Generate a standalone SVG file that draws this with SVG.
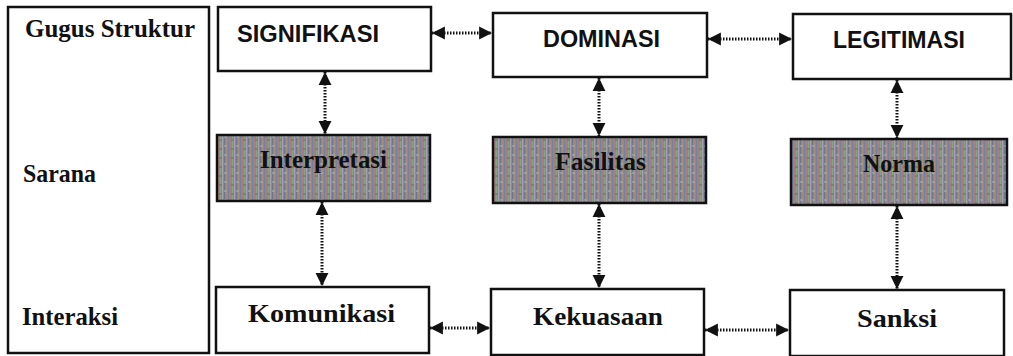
<svg xmlns="http://www.w3.org/2000/svg" width="1013" height="356" viewBox="0 0 1013 356">
<style>
.box{fill:#fff;stroke:#111;stroke-width:2.5}
.tex{fill:url(#noise);stroke:#111;stroke-width:2.5}
.sans{font-family:"Liberation Sans",Arial,sans-serif;font-weight:bold;font-size:23px;fill:#111}
.serif{font-family:"Liberation Serif","Times New Roman",serif;font-weight:bold;font-size:25px;fill:#111}
.con{stroke:#111;stroke-width:3;stroke-dasharray:1.5 1.5;fill:none;marker-start:url(#ah);marker-end:url(#ah)}
</style>
<defs>
<marker id="ah" viewBox="0 0 10 10" refX="10" refY="5" markerWidth="4.3" markerHeight="4.6" orient="auto-start-reverse" markerUnits="strokeWidth">
<path d="M0,0 L10,5 L0,10 z" fill="#111"/>
</marker>
<pattern id="noise" width="12" height="9" patternUnits="userSpaceOnUse">
<rect width="12" height="9" fill="#8e8a8c"/>
<rect x="0" width="1" height="9" fill="#7580a2"/>
<rect x="2" width="1" height="9" fill="#a47e7c"/>
<rect x="4" width="1" height="9" fill="#84a286"/>
<rect x="6" width="1" height="9" fill="#a8a2a8"/>
<rect x="8" width="1" height="9" fill="#6e7496"/>
<rect x="10" width="1" height="9" fill="#a28f72"/>
<rect x="3" y="4" width="3" height="2" fill="#7a6a70" opacity="0.6"/>
<rect x="8" y="1" width="3" height="2" fill="#a8acb0" opacity="0.6"/>
</pattern>
</defs>

<g id="left-panel">
<rect class="box" x="8" y="7" width="201" height="346"/>
<text class="serif" x="25" y="37" textLength="170" lengthAdjust="spacingAndGlyphs">Gugus Struktur</text>
<text class="serif" x="23" y="182" textLength="73" lengthAdjust="spacingAndGlyphs">Sarana</text>
<text class="serif" x="22" y="325" textLength="96" lengthAdjust="spacingAndGlyphs">Interaksi</text>
</g>

<g id="signifikasi">
<rect class="box" x="218" y="7" width="213" height="64"/>
<text class="sans" x="237" y="42" textLength="142" lengthAdjust="spacingAndGlyphs">SIGNIFIKASI</text>
</g>
<g id="dominasi">
<rect class="box" x="493" y="13" width="214" height="64"/>
<text class="sans" x="543" y="47" textLength="117" lengthAdjust="spacingAndGlyphs">DOMINASI</text>
</g>
<g id="legitimasi">
<rect class="box" x="793" y="14" width="218" height="65"/>
<text class="sans" x="833" y="48" textLength="132" lengthAdjust="spacingAndGlyphs">LEGITIMASI</text>
</g>

<g id="interpretasi">
<rect class="tex" x="217" y="135" width="213" height="66"/>
<text class="serif" x="260" y="168" textLength="127" lengthAdjust="spacingAndGlyphs">Interpretasi</text>
</g>
<g id="fasilitas">
<rect class="tex" x="493" y="137" width="213" height="66"/>
<text class="serif" x="555" y="170" textLength="91" lengthAdjust="spacingAndGlyphs">Fasilitas</text>
</g>
<g id="norma">
<rect class="tex" x="791" y="139" width="216" height="66"/>
<text class="serif" x="863" y="172" textLength="72" lengthAdjust="spacingAndGlyphs">Norma</text>
</g>

<g id="komunikasi">
<rect class="box" x="216" y="287" width="213" height="66"/>
<text class="serif" x="248" y="322" textLength="147" lengthAdjust="spacingAndGlyphs">Komunikasi</text>
</g>
<g id="kekuasaan">
<rect class="box" x="491" y="289" width="213" height="66"/>
<text class="serif" x="533" y="325" textLength="130" lengthAdjust="spacingAndGlyphs">Kekuasaan</text>
</g>
<g id="sanksi">
<rect class="box" x="790" y="290" width="214" height="66"/>
<text class="serif" x="857" y="327" textLength="80" lengthAdjust="spacingAndGlyphs">Sanksi</text>
</g>

<g id="connectors">
<line class="con" x1="432" y1="33" x2="492" y2="33"/>
<line class="con" x1="708" y1="39" x2="792" y2="39"/>
<line class="con" x1="325" y1="72" x2="325" y2="134"/>
<line class="con" x1="599" y1="78" x2="599" y2="136"/>
<line class="con" x1="897" y1="80" x2="897" y2="138"/>
<line class="con" x1="322" y1="202" x2="322" y2="286"/>
<line class="con" x1="599" y1="204" x2="599" y2="288"/>
<line class="con" x1="897" y1="206" x2="897" y2="289"/>
<line class="con" x1="430" y1="328" x2="490" y2="328"/>
<line class="con" x1="705" y1="330" x2="789" y2="330"/>
</g>
</svg>
